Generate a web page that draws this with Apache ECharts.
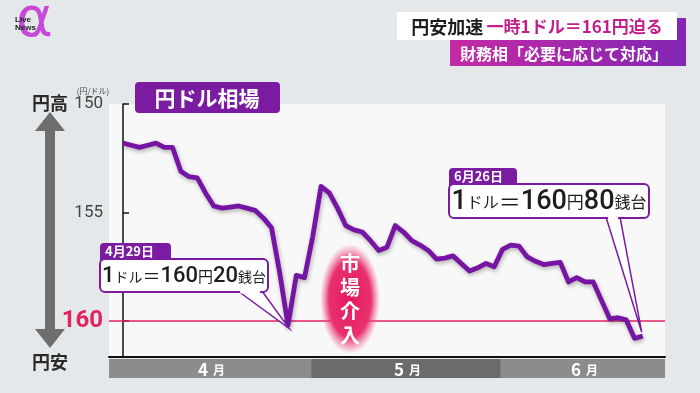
<!DOCTYPE html>
<html><head><meta charset="utf-8">
<script src="https://cdn.jsdelivr.net/npm/echarts@6/dist/echarts.min.js"></script>
<style>html,body{margin:0;padding:0;background:#e5e8ea}#c{width:700px;height:393px}</style>
</head><body><div id="c"></div>
<script>
// USD/JPY, trading days from 1 Apr 2024 (index 0) to late June
const rates = [151.8,151.9,152.0,151.9,151.8,152.0,152.0,153.1,153.35,153.4,
  154.1,154.7,154.8,154.75,154.7,154.8,154.9,155.25,155.7,157.8,
  160.2,157.9,158.0,156.1,153.8,154.1,154.8,155.6,155.8,155.9,
  156.3,156.75,156.6,155.6,155.9,156.3,156.5,156.75,157.15,157.1,
  157.0,157.35,157.7,157.55,157.35,157.5,156.7,156.5,156.55,157.05,
  157.25,157.4,157.35,157.3,158.2,158.0,158.2,158.2,159.05,159.9,
  159.85,159.95,160.8,160.7];
const yTicks = [150, 155, 160];
const months = ['4', '5', '6'];
const monthFrom = [-1.7, 22.8, 45.8];
const monthTo = [22.8, 45.8, 65.7];
const xMin = -1.7, xMax = 65.7;
const yMin = 150, yMax = 161.66;
const note1 = {date: '4月29日', idx: 20, yen: '160', sen: '20'};
const note2 = {date: '6月26日', idx: 63, yen: '160', sen: '80'};

const JP = '"Noto Sans CJK JP", "Noto Sans", sans-serif';
const chart = echarts.init(document.getElementById('c'));
const lineData = rates.map((v, i) => [i, v]);
const monthData = months.map((m, i) => [monthFrom[i], monthTo[i], m]);

chart.setOption({
  backgroundColor: '#e5e8ea',
  animation: false,
  grid: [
    {left: 109, right: 35, top: 104, height: 253, show: true, backgroundColor: '#f8f8f8', borderWidth: 0},
    {left: 109, right: 35, top: 359, height: 19}
  ],
  xAxis: [
    {type: 'value', gridIndex: 0, min: xMin, max: xMax, axisLabel: {show: false}, axisTick: {show: false},
      splitLine: {show: false}, axisLine: {show: true, onZero: false, lineStyle: {color: '#111', width: 2}}},
    {type: 'value', gridIndex: 1, min: xMin, max: xMax, show: false}
  ],
  yAxis: [
    {type: 'value', gridIndex: 0, inverse: true, min: yMin, max: yMax, splitLine: {show: false},
      axisLine: {show: true, lineStyle: {color: '#111', width: 1.5}},
      axisTick: {show: true, inside: true, length: 6, customValues: yTicks, lineStyle: {color: '#111', width: 1.5}},
      axisLabel: {customValues: yTicks, margin: 6, fontFamily: 'Roboto',
        formatter: v => v === 160 ? '{r|160}' : '{n|' + v + '}',
        rich: {n: {fontSize: 17, color: '#444', fontFamily: 'Roboto'},
               r: {fontSize: 24, color: '#e2215f', fontWeight: 'bold', fontFamily: 'Roboto'}}}},
    {type: 'value', gridIndex: 1, min: 0, max: 1, show: false}
  ],
  series: [
    {type: 'line', xAxisIndex: 0, yAxisIndex: 0, data: lineData, symbol: 'none', z: 5,
      lineStyle: {color: '#7614a3', width: 4.8, join: 'round', shadowColor: 'rgba(0,0,0,0.3)', shadowBlur: 4, shadowOffsetX: 1, shadowOffsetY: 2},
      markLine: {silent: true, symbol: 'none', label: {show: false}, z: 3,
        lineStyle: {color: '#e2215f', width: 1.5, type: 'solid'}, data: [{yAxis: 160}]}},
    {type: 'custom', xAxisIndex: 1, yAxisIndex: 1, data: monthData, silent: true,
      renderItem: (params, api) => {
        const s = api.coord([api.value(0), 1]);
        const e = api.coord([api.value(1), 0]);
        const i = params.dataIndex;
        return {type: 'rect', shape: {x: s[0], y: s[1], width: e[0] - s[0], height: e[1] - s[1]},
            style: {fill: i === 1 ? '#6b6b6b' : '#8c8c8c'}};
      }}
  ]
});

function callout(note, box, tabW, sizes) {
  const tip = chart.convertToPixel({xAxisIndex: 0, yAxisIndex: 0}, [note.idx, rates[note.idx]]);
  tip[0] += box.tdx; tip[1] += box.tdy;
  const P = '#7a1ba2';
  const yb = box.y + box.h;
  return {type: 'group', z: 20, children: [
    {type: 'polygon', z: 20, shape: {points: [[box.p0, yb - 1], tip, [box.p1, yb - 1]]},
      style: {fill: '#fff', stroke: P, lineWidth: 1.5}},
    {type: 'rect', z: 21, shape: {x: box.x, y: box.y - 16, width: tabW, height: 20, r: [4, 4, 0, 0]}, style: {fill: P}},
    {type: 'text', z: 22, style: {text: note.date, x: box.x + 5, y: box.y - 8, verticalAlign: 'middle',
      font: 'bold 13px ' + JP, fill: '#fff'}},
    {type: 'rect', z: 21, shape: {x: box.x, y: box.y, width: box.w, height: box.h, r: 5},
      style: {fill: '#fff', stroke: P, lineWidth: 2}},
    {type: 'polygon', z: 22, shape: {points: [[box.p0 + 1.5, yb - 2.5], [box.p0 + 2.5, yb + 1.5], [box.p1 - 2.5, yb + 1.5], [box.p1 - 1, yb - 2.5]]},
      style: {fill: '#fff'}},
    {type: 'text', z: 23, style: {
      text: '{b|1}{s|ドル}{e|＝}{b|' + note.yen + '}{y|円}{b|' + note.sen + '}{s|銭台}',
      x: box.x + box.w / 2, y: box.y + box.h / 2 + 1, align: 'center', verticalAlign: 'middle',
      rich: {b: {fontSize: sizes[0], fill: '#1e1e1e', fontFamily: 'Roboto', fontWeight: 500},
             s: {fontSize: sizes[1], fill: '#1e1e1e', fontFamily: JP},
             e: {fontSize: sizes[2], fill: '#1e1e1e', fontFamily: JP},
             y: {fontSize: sizes[3], fill: '#1e1e1e', fontFamily: JP}}}}
  ]};
}

const monthLabels = [];
months.forEach((m, i) => {
  const p = chart.convertToPixel({xAxisIndex: 1, yAxisIndex: 1}, [(monthFrom[i] + monthTo[i]) / 2, 0.5]);
  monthLabels.push(
    {type: 'text', z: 30, style: {text: m, x: p[0] - 2, y: p[1] + 1, align: 'right', verticalAlign: 'middle', font: 'bold 17px ' + JP, fill: '#fff'}},
    {type: 'text', z: 30, style: {text: '月', x: p[0] + 3, y: p[1] + 2, align: 'left', verticalAlign: 'middle', font: 'bold 12px ' + JP, fill: '#fff'}}
  );
});

const graphics = [
  // logo
  {type: 'text', z: 30, style: {text: 'α', x: 16, y: 21, verticalAlign: 'middle', font: '56px "DejaVu Sans"', fill: '#c640d8', opacity: 0.95}},
  {type: 'text', z: 31, style: {text: 'Live\nNews', x: 15, y: 16, lineHeight: 8, font: 'bold 8px "Liberation Sans"', fill: '#222'}},
  // header
  {type: 'rect', z: 30, shape: {x: 450, y: 18, width: 236, height: 48},
    style: {fill: {type: 'linear', x: 0, y: 0, x2: 1, y2: 0, colorStops: [{offset: 0, color: '#c52aa3'}, {offset: 1, color: '#8226b4'}]}}},
  {type: 'rect', z: 31, shape: {x: 397, y: 12, width: 280, height: 28}, style: {fill: '#fff'}},
  {type: 'text', z: 32, style: {text: '{a|円安加速} {b|一時1ドル＝161円迫る}', x: 537, y: 27, align: 'center', verticalAlign: 'middle',
    rich: {a: {fontSize: 18, fontWeight: 'bold', fill: '#1c1c1c', fontFamily: JP},
           b: {fontSize: 17, fontWeight: 'bold', fill: '#c21e8e', fontFamily: JP}}}},
  {type: 'text', z: 32, style: {text: '財務相「必要に応じて対応」', x: 564, y: 54, align: 'center', verticalAlign: 'middle',
    font: 'bold 16px ' + JP, fill: '#fff'}},
  // title
  {type: 'rect', z: 30, shape: {x: 135, y: 82, width: 145, height: 31, r: 4}, style: {fill: '#7a1ba2'}},
  {type: 'text', z: 31, style: {text: '円ドル相場', x: 207, y: 98, align: 'center', verticalAlign: 'middle', font: 'bold 21px ' + JP, fill: '#fff'}},
  // left arrow and labels
  {type: 'text', z: 30, style: {text: '円高', x: 50, y: 103, align: 'center', verticalAlign: 'middle', font: 'bold 18px ' + JP, fill: '#2a2a2a'}},
  {type: 'text', z: 30, style: {text: '円安', x: 50, y: 362, align: 'center', verticalAlign: 'middle', font: 'bold 18px ' + JP, fill: '#2a2a2a'}},
  {type: 'polygon', z: 30, shape: {points: [[50, 112], [65, 131], [55, 131], [55, 329], [65, 329], [50, 348], [35, 329], [45, 329], [45, 131], [35, 131]]},
    style: {fill: '#6e6e6e'}},
  {type: 'text', z: 30, style: {text: '(円/ドル)', x: 93, y: 91, align: 'center', verticalAlign: 'middle', font: '8px ' + JP, fill: '#444'}},
  // intervention blob
  {type: 'circle', z: 15, x: 350, y: 299, scaleX: 1, scaleY: 55 / 30, shape: {cx: 0, cy: 0, r: 30},
    style: {fill: {type: 'radial', x: 0.5, y: 0.5, r: 0.5, colorStops: [
      {offset: 0, color: '#e5195f'}, {offset: 0.7, color: '#e8306f'}, {offset: 1, color: 'rgba(240,90,140,0)'}]}}},
  {type: 'text', z: 16, style: {text: '市\n場\n介\n入', x: 350, y: 299, align: 'center', verticalAlign: 'middle', lineHeight: 24,
    font: 'bold 20px ' + JP, fill: '#fff'}},
  callout(note1, {x: 100, y: 259, w: 168, h: 33, p0: 238, p1: 262, tdx: 1, tdy: 3}, 71, [22, 14, 18, 15]),
  callout(note2, {x: 449, y: 184, w: 200, h: 34, p0: 606, p1: 620, tdx: -1, tdy: -4}, 68, [27, 16, 22, 17])
].concat(monthLabels);
chart.setOption({graphic: graphics});
</script></body></html>
